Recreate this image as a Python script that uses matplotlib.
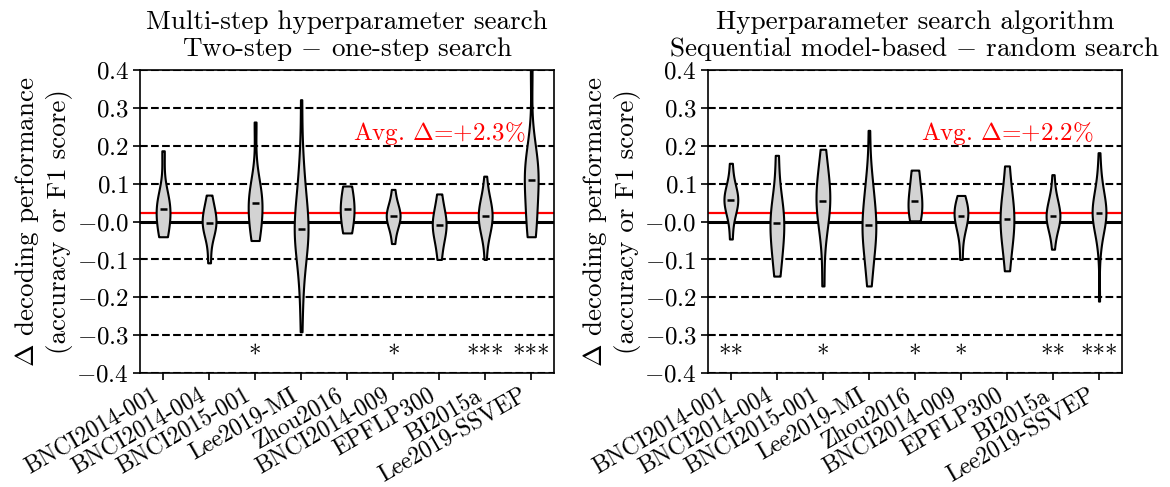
import numpy as np
import matplotlib
matplotlib.use("Agg")
import matplotlib.pyplot as plt
from matplotlib.ticker import FuncFormatter

plt.rcParams['font.family'] = 'cmr10'
plt.rcParams['mathtext.fontset'] = 'cm'
plt.rcParams['axes.formatter.use_mathtext'] = True
plt.rcParams['font.size'] = 18

datasets = ['BNCI2014-001', 'BNCI2014-004', 'BNCI2015-001', 'Lee2019-MI',
            'Zhou2016', 'BNCI2014-009', 'EPFLP300', 'BI2015a', 'Lee2019-SSVEP']

# estimated per-subject differences, two-step minus one-step
left_data = [
    [-0.04, -0.03, -0.01, 0.02, 0.034, 0.04, 0.05, 0.07, 0.187],
    [-0.109, -0.04, -0.02, -0.01, -0.003, 0.01, 0.02, 0.04, 0.07],
    [-0.05, -0.04, -0.02, 0.0, 0.02, 0.04, 0.056, 0.06, 0.07, 0.08, 0.12, 0.263],
    [-0.291, -0.2, -0.15, -0.1, -0.08, -0.06, -0.05, -0.04, -0.03, -0.025, -0.02,
     -0.01, 0.0, 0.01, 0.03, 0.05, 0.08, 0.1, 0.13, 0.18, 0.322],
    [-0.03, 0.02, 0.044, 0.094],
    [-0.058, -0.02, -0.005, 0.005, 0.01, 0.02, 0.025, 0.035, 0.05, 0.085],
    [-0.1, -0.05, -0.03, -0.015, -0.001, 0.01, 0.03, 0.073],
    [-0.1, -0.05, -0.03, -0.02, -0.01, 0.0, 0.01, 0.016, 0.02, 0.03, 0.04, 0.05,
     0.06, 0.08, 0.12],
    [-0.04, -0.035, -0.02, 0.0, 0.03, 0.06, 0.09, 0.11, 0.12, 0.13, 0.14, 0.15,
     0.17, 0.2, 0.4],
]
# sequential model-based minus random search
right_data = [
    [-0.046, 0.02, 0.04, 0.05, 0.058, 0.065, 0.075, 0.09, 0.154],
    [-0.144, -0.1, -0.06, -0.03, -0.005, 0.01, 0.03, 0.06, 0.175],
    [-0.17, -0.05, 0.0, 0.02, 0.04, 0.05, 0.06, 0.08, 0.1, 0.12, 0.15, 0.191],
    [-0.17, -0.15, -0.12, -0.1, -0.08, -0.06, -0.05, -0.04, -0.03, -0.02, -0.008,
     0.0, 0.01, 0.02, 0.04, 0.05, 0.07, 0.09, 0.11, 0.14, 0.241],
    [0.002, 0.04, 0.07, 0.136],
    [-0.1, -0.04, -0.01, 0.0, 0.01, 0.022, 0.03, 0.04, 0.05, 0.069],
    [-0.13, -0.06, -0.03, -0.01, 0.022, 0.04, 0.07, 0.147],
    [-0.073, -0.04, -0.02, -0.01, 0.0, 0.005, 0.01, 0.016, 0.02, 0.03, 0.04, 0.05,
     0.06, 0.08, 0.124],
    [-0.21, -0.08, -0.04, -0.02, -0.01, 0.0, 0.005, 0.01, 0.015, 0.02, 0.023, 0.03,
     0.035, 0.04, 0.05, 0.06, 0.07, 0.08, 0.1, 0.13, 0.182],
]

left_avg = 0.023
right_avg = 0.022
left_stars = ['', '', '*', '', '', '*', '', '***', '***']
right_stars = ['**', '', '*', '', '*', '*', '', '**', '***']

titles = ['Multi-step hyperparameter search\nTwo-step $-$ one-step search',
          'Hyperparameter search algorithm\nSequential model-based $-$ random search']

fig = plt.figure(figsize=(11.7, 4.87), dpi=100)
ax1 = fig.add_axes([0.1197, 0.234, 0.354, 0.622])
ax2 = fig.add_axes([0.605, 0.234, 0.354, 0.622])

panels = [(ax1, left_data, left_avg, left_stars, titles[0]),
          (ax2, right_data, right_avg, right_stars, titles[1])]

pos = np.arange(1, len(datasets) + 1)
for ax, data, avg, stars, title in panels:
    for yv in [-0.4, -0.3, -0.2, -0.1, 0.1, 0.2, 0.3, 0.4]:
        ax.axhline(yv, color='k', ls='--', lw=1.5, zorder=1)
    ax.axhline(0, color='k', lw=2.2, zorder=2)
    ax.axhline(avg, color='red', lw=1.6, zorder=2)

    vp = ax.violinplot(data, positions=pos, widths=0.3,
                       showextrema=False, showmedians=True)
    for b in vp['bodies']:
        b.set_facecolor('lightgray')
        b.set_edgecolor('k')
        b.set_linewidth(1.5)
        b.set_alpha(1)
        b.set_zorder(3)
    vp['cmedians'].set_color('k')
    vp['cmedians'].set_linewidth(1.8)
    vp['cmedians'].set_zorder(4)

    for p, s in zip(pos, stars):
        if s:
            ax.text(p, -0.355, s, ha='center', va='center')

    ax.text(7.0, 0.232, 'Avg. $\\Delta$=%+.1f%%' % (avg * 100), color='red',
            ha='center', va='center')

    ax.set_xlim(0.5, 9.5)
    ax.set_ylim(-0.4, 0.4)
    ax.set_yticks(np.round(np.arange(-0.4, 0.41, 0.1), 1))
    ax.yaxis.set_major_formatter(FuncFormatter(lambda v, _: '$%.1f$' % v))
    ax.set_xticks(pos)
    ax.set_xticklabels(datasets, rotation=30, ha='right', fontsize=17)
    ax.tick_params(direction='out', length=5, width=1.2, pad=3)
    for sp in ax.spines.values():
        sp.set_linewidth(1.2)
    ax.set_ylabel('$\\Delta$ decoding performance\n(accuracy or F1 score)',
                  fontsize=19.5, labelpad=2, linespacing=1.25)
    ax.set_title(title, fontsize=19.5, linespacing=1.05, pad=10)

fig.savefig('out.png', dpi=100)
